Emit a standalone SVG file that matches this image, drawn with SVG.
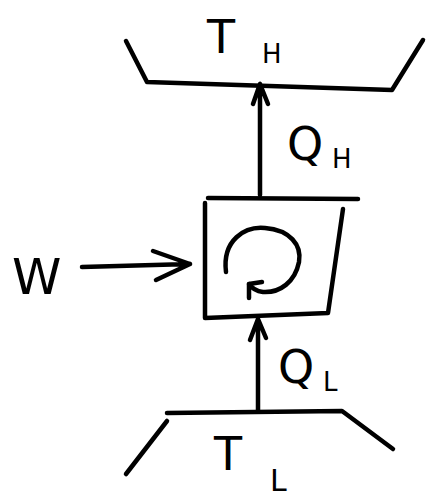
<svg xmlns="http://www.w3.org/2000/svg" width="427" height="497" viewBox="0 0 427 497">
<defs>
<style>
.ln{fill:none;stroke:#000;stroke-width:4.5;stroke-linecap:round;stroke-linejoin:round}
.lbl{font-family:"DejaVu Sans","Liberation Sans",sans-serif;fill:#000}
</style>
</defs>
<rect width="427" height="497" fill="#fff"/>
<g id="hot-reservoir">
<path class="ln" d="M126,41 L147,82 L392,90 L423,40"/>
<text class="lbl" x="207" y="53" font-size="46">T</text>
<text class="lbl" x="262" y="63" font-size="26">H</text>
</g>
<g id="engine">
<path class="ln" d="M205,203 L205,318 L328,313 L343,209"/>
<path class="ln" d="M226,272 C222,240 245,226 265,228 C290,230 302,245 299,262 C295,282 280,293 263,292 C255,291 251,287 249,284"/>
<path class="ln" d="M249,284 L249,298 M249,284 L262,282"/>
</g>
<g id="work-label">
<text class="lbl" x="12" y="294" font-size="50">W</text>
</g>
<g id="cold-reservoir">
<path class="ln" d="M167,413 L342,411 L393,449"/>
<path class="ln" d="M167,421 L126,474"/>
<text class="lbl" x="214" y="470" font-size="46">T</text>
<text class="lbl" x="270" y="491" font-size="30">L</text>
</g>
<g id="connectors">
<path class="ln" d="M208,198 L358,199"/>
<path class="ln" d="M260,195 L260,84 M260,84 L253,104 M260,84 L268,104"/>
<path class="ln" d="M82,267 L190,264 M190,264 L153,251 M190,264 L156,280"/>
<path class="ln" d="M258,411 L258,319 M258,319 L250,340 M258,319 L266,338"/>
</g>
<g id="q-labels">
<text class="lbl" x="287" y="160" font-size="46">Q</text>
<text class="lbl" x="332" y="168" font-size="26">H</text>
<text class="lbl" x="278" y="383" font-size="46">Q</text>
<text class="lbl" x="323" y="391" font-size="26">L</text>
</g>
</svg>
